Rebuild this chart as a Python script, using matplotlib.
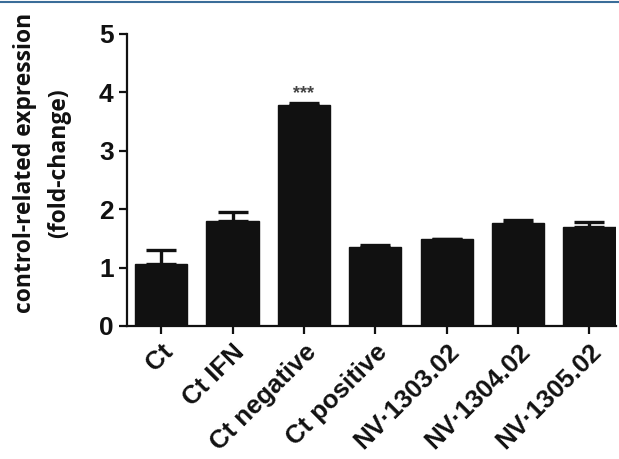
import matplotlib
matplotlib.use("Agg")
import matplotlib.pyplot as plt
from matplotlib.lines import Line2D
import numpy as np

categories = ["Ct", "Ct IFN", "Ct negative", "Ct positive",
              "NV·1303.02", "NV·1304.02", "NV·1305.02"]
fold_change = [1.06, 1.80, 3.78, 1.35, 1.48, 1.76, 1.69]
sem = [0.24, 0.15, 0.04, 0.03, 0.01, 0.05, 0.09]
y_ticks = [0, 1, 2, 3, 4, 5]
significance = {2: "***"}

fig = plt.figure(figsize=(6.19, 4.59), dpi=100)
ax = fig.add_axes([0.205, 0.290, 0.790, 0.636])

x = np.arange(len(categories))
ax.bar(x, fold_change, width=0.73, color="#111111", edgecolor="#111111", zorder=2)
ax.errorbar(x, fold_change, yerr=[np.zeros(len(sem)), sem], fmt="none",
            ecolor="#111111", elinewidth=2.4, capsize=11, capthick=2.4, zorder=3)

for i, mark in significance.items():
    ax.text(x[i], fold_change[i] + sem[i] + 0.01, mark, ha="center", va="bottom",
            fontsize=13, fontweight="bold", color="#444444",
            family="Liberation Sans")

ax.set_xlim(-0.48, 6.37)
ax.set_ylim(0, 5)
ax.set_yticks(y_ticks)
ax.set_xticks(x)
ax.set_xticklabels(categories, rotation=45, ha="right", rotation_mode="anchor")

for side in ("top", "right"):
    ax.spines[side].set_visible(False)
for side in ("left", "bottom"):
    ax.spines[side].set_linewidth(1.6)
    ax.spines[side].set_color("#111111")

ax.tick_params(axis="both", direction="out", length=6, width=1.6, color="#111111")
ax.tick_params(axis="x", pad=4)
for lbl in ax.get_yticklabels() + ax.get_xticklabels():
    lbl.set_family(["Liberation Sans", "DejaVu Sans"])
    lbl.set_fontweight("bold")
    lbl.set_fontsize(19)
    lbl.set_color("#111111")
for lbl in ax.get_xticklabels():
    lbl.set_fontsize(18.5)

fig.text(0.068, 0.645, "control-related expression\n(fold-change)", rotation=90,
         ha="center", va="center", multialignment="center", fontsize=16.5,
         fontweight="bold", family="Open Sans", color="#111111", linespacing=1.6)

fig.add_artist(Line2D([0, 1], [0.996, 0.996], transform=fig.transFigure,
                      color="#3a6d99", linewidth=1.5))

fig.savefig("out.png", dpi=100)
